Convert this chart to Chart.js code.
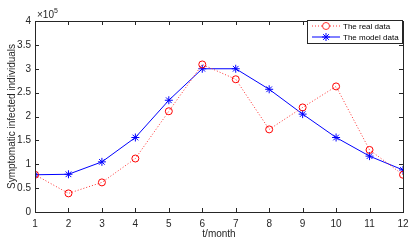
<!DOCTYPE html>
<html>
<head>
<meta charset="utf-8">
<script src="https://cdn.jsdelivr.net/npm/chart.js@4"></script>
<style>
  html, body { margin: 0; padding: 0; background: #fff; }
  #wrap { width: 418px; height: 242px; }
</style>
</head>
<body>
<div id="wrap"><canvas id="c" width="418" height="242"></canvas></div>
<script>
// months on the x axis
const months = [1, 2, 3, 4, 5, 6, 7, 8, 9, 10, 11, 12];
// values in units of 10^5
const realData = [0.78, 0.39, 0.62, 1.12, 2.11, 3.09, 2.78, 1.73, 2.19, 2.63, 1.30, 0.78];
const modelData = [0.78, 0.79, 1.05, 1.56, 2.34, 3.00, 3.00, 2.57, 2.05, 1.56, 1.17, 0.88];
const yTicks = [0, 0.5, 1, 1.5, 2, 2.5, 3, 3.5, 4];
const seriesNames = ['The real data', 'The model data'];

const FONT = 'Liberation Sans, Arial, Helvetica, sans-serif';
const AXIS = '#262626';

// MATLAB-style box: frame, inward ticks on all sides, x10^5 and legend
const boxPlugin = {
    id: 'matlabBox',
    afterDraw(chart) {
        const ctx = chart.ctx;
        const a = chart.chartArea;
        const xs = chart.scales.x, ys = chart.scales.y;
        ctx.save();
        ctx.strokeStyle = AXIS;
        ctx.lineWidth = 1;
        ctx.strokeRect(a.left + 0.5, a.top + 0.5, a.right - a.left, a.bottom - a.top);
        const tl = 4;
        ctx.beginPath();
        months.forEach(m => {
            const x = Math.round(xs.getPixelForValue(m)) + 0.5;
            ctx.moveTo(x, a.bottom); ctx.lineTo(x, a.bottom - tl);
            ctx.moveTo(x, a.top); ctx.lineTo(x, a.top + tl);
        });
        yTicks.forEach(v => {
            const y = Math.round(ys.getPixelForValue(v)) + 0.5;
            ctx.moveTo(a.left, y); ctx.lineTo(a.left + tl, y);
            ctx.moveTo(a.right, y); ctx.lineTo(a.right - tl, y);
        });
        ctx.stroke();

        // exponent label
        ctx.fillStyle = AXIS;
        ctx.textBaseline = 'alphabetic';
        ctx.textAlign = 'left';
        ctx.font = '10px ' + FONT;
        ctx.fillText('\u00d710', a.left + 2, a.top - 3);
        const w = ctx.measureText('\u00d710').width;
        ctx.font = '7px ' + FONT;
        ctx.fillText('5', a.left + 2 + w, a.top - 8);

        // legend
        const lx = 307, ly = 20, lw = 95, lh = 23;
        ctx.fillStyle = '#fff';
        ctx.fillRect(lx, ly, lw, lh);
        ctx.strokeRect(lx + 0.5, ly + 0.5, lw, lh);
        chart.data.datasets.forEach((ds, i) => {
            const y = ly + 6 + i * 11;
            ctx.save();
            ctx.strokeStyle = ds.borderColor;
            ctx.lineWidth = ds.borderWidth;
            ctx.setLineDash(ds.borderDash || []);
            ctx.beginPath();
            ctx.moveTo(lx + 5, y); ctx.lineTo(lx + 33, y);
            ctx.stroke();
            ctx.setLineDash([]);
            Chart.helpers.drawPoint(ctx, {
                pointStyle: ds.pointStyle, radius: ds.pointRadius, borderWidth: 1
            }, lx + 19, y);
            ctx.restore();
            ctx.fillStyle = '#000';
            ctx.font = '8px ' + FONT;
            ctx.textBaseline = 'middle';
            ctx.fillText(seriesNames[i], lx + 36, y + 0.5);
        });
        ctx.restore();
    }
};

new Chart(document.getElementById('c'), {
    type: 'line',
    data: {
        datasets: [{
            label: seriesNames[0],
            data: months.map((m, i) => ({ x: m, y: realData[i] })),
            borderColor: '#ff3030',
            backgroundColor: 'rgba(0,0,0,0)',
            borderWidth: 1,
            borderDash: [1, 2],
            pointStyle: 'circle',
            pointRadius: 3.5,
            pointBorderColor: '#ff0000',
            pointBackgroundColor: 'rgba(0,0,0,0)',
            pointBorderWidth: 1,
            tension: 0
        }, {
            label: seriesNames[1],
            data: months.map((m, i) => ({ x: m, y: modelData[i] })),
            borderColor: '#0000ff',
            backgroundColor: 'rgba(0,0,0,0)',
            borderWidth: 1,
            pointStyle: 'star',
            pointRadius: 4,
            pointBorderColor: '#0000ff',
            pointBackgroundColor: '#0000ff',
            pointBorderWidth: 1,
            tension: 0
        }]
    },
    options: {
        responsive: false,
        animation: false,
        events: [],
        layout: { padding: { top: 21, right: 15, left: 0, bottom: 0 } },
        plugins: { legend: { display: false }, tooltip: { enabled: false } },
        scales: {
            x: {
                type: 'linear',
                min: 1, max: 12,
                afterFit: s => { s.height = 30; },
                afterBuildTicks: s => { s.ticks = months.map(v => ({ value: v })); },
                grid: { display: false, drawTicks: false },
                border: { display: false },
                ticks: {
                    color: AXIS, padding: 6, font: { family: FONT, size: 10 }, maxRotation: 0,
                    callback: v => String(v)
                },
                title: {
                    display: true, text: 't/month', color: AXIS,
                    font: { family: FONT, size: 10 }, padding: { top: 0, bottom: 2 }
                }
            },
            y: {
                min: 0, max: 4,
                afterFit: s => { s.width = 35; },
                afterBuildTicks: s => { s.ticks = yTicks.map(v => ({ value: v })); },
                grid: { display: false, drawTicks: false },
                border: { display: false },
                ticks: {
                    color: AXIS, padding: 4, font: { family: FONT, size: 10 },
                    callback: v => String(v)
                },
                title: {
                    display: true, text: 'Symptomatic infected individuals', color: AXIS,
                    font: { family: FONT, size: 10 }, padding: { top: 6, bottom: 0 }
                }
            }
        }
    },
    plugins: [boxPlugin]
});
</script>
</body>
</html>
